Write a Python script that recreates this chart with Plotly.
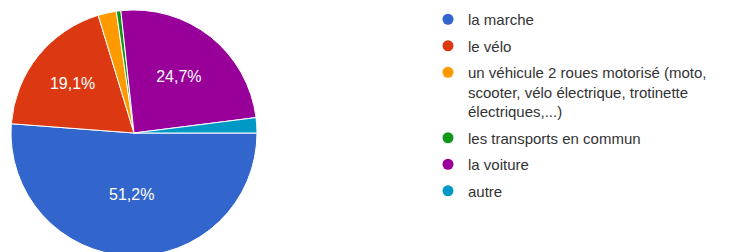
import plotly.graph_objects as go

labels = [
    "la marche",
    "le vélo",
    "un véhicule 2 roues motorisé (moto,<br>scooter, vélo électrique, trotinette<br>électriques,...)",
    "les transports en commun",
    "la voiture",
    "autre",
]
values = [51.2, 19.1, 2.4, 0.6, 24.7, 2.0]
colors = ["#3366cc", "#dc3912", "#ff9900", "#109618", "#990099", "#0099c6"]

texts = [(f"{v:.1f}%".replace(".", ",") if v > 5 else "") for v in values]

W, H = 733, 260

fig = go.Figure()
fig.add_trace(go.Pie(
    labels=labels, values=values, sort=False, direction="clockwise", rotation=90,
    marker=dict(colors=colors, line=dict(color="white", width=1)),
    text=texts, textinfo="text", textposition="inside",
    insidetextorientation="horizontal",
    textfont=dict(family="Arial, Liberation Sans", size=16, color="white"),
    showlegend=False, hoverinfo="label+percent",
    domain=dict(x=[11/W, 257/W], y=[(H - 256)/H, (H - 10)/H]),
))

for i, (lab, col) in enumerate(zip(labels, colors)):
    fig.add_trace(go.Scatter(
        x=[None], y=[None], mode="markers", name=lab,
        marker=dict(symbol="circle", size=11, color=col),
        legendgroup=f"g{i}", showlegend=True,
    ))

fig.update_layout(
    width=W, height=H,
    margin=dict(l=0, r=0, t=0, b=0),
    paper_bgcolor="white", plot_bgcolor="white",
    xaxis=dict(visible=False, domain=[0.99, 1.0]),
    yaxis=dict(visible=False, domain=[0.99, 1.0]),
    legend=dict(
        x=428/W, y=1 - 3/H, xanchor="left", yanchor="top",
        font=dict(family="Arial, Liberation Sans", size=15, color="#333333"),
        traceorder="grouped", tracegroupgap=4, valign="top",
        itemclick=False, itemdoubleclick=False,
    ),
    showlegend=True,
)

fig.write_html("out.html", config={"displayModeBar": False},
               post_script="document.body.style.margin='0';")
